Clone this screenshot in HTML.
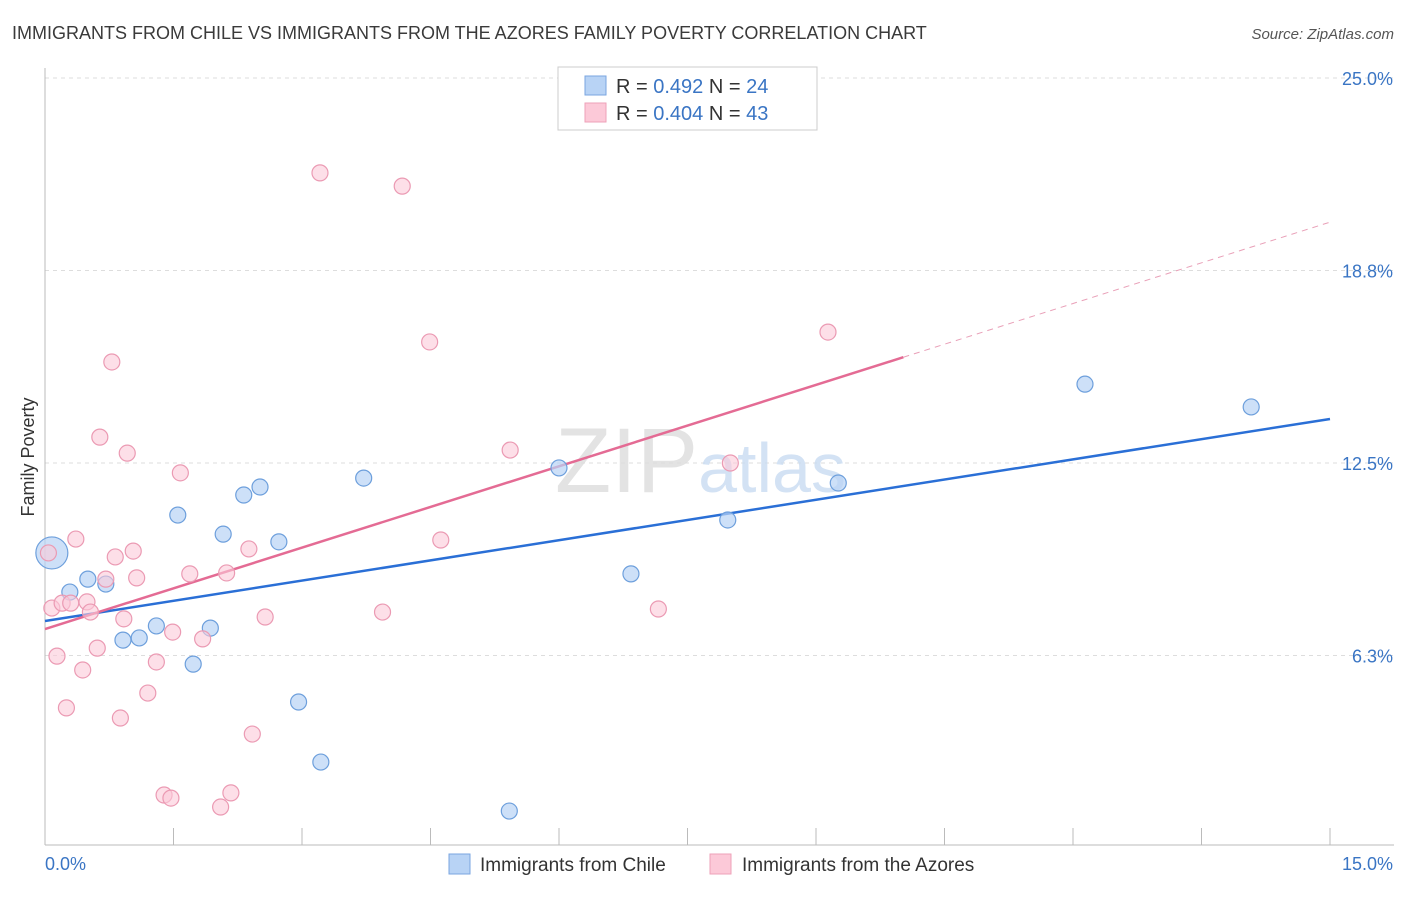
<!DOCTYPE html>
<html><head><meta charset="utf-8">
<style>
body{margin:0;background:#fff;font-family:"Liberation Sans",sans-serif;}
svg text{font-family:"Liberation Sans",sans-serif;}
</style></head>
<body>
<svg id="chart" width="1406" height="892" xmlns="http://www.w3.org/2000/svg">
<text x="12" y="39" font-size="18" fill="#3a3a3a">IMMIGRANTS FROM CHILE VS IMMIGRANTS FROM THE AZORES FAMILY POVERTY CORRELATION CHART</text>
<text x="1394" y="39" font-size="15" fill="#555" font-style="italic" text-anchor="end">Source: ZipAtlas.com</text>
<g id="grid"></g>
<text x="555" y="492" font-size="92" fill="#ddd" font-family="Liberation Serif" opacity="0.8">ZIP<tspan fill="#c9dcf2" font-family="Liberation Sans" font-size="70">atlas</tspan></text>
<text transform="translate(34,457) rotate(-90)" font-size="18" fill="#333" text-anchor="middle">Family Poverty</text>
<g id="lines"></g>
<g id="points"></g>
<g>
<rect x="558" y="67" width="259" height="63" fill="#fff" stroke="#ccc"/>
<rect x="585" y="76" width="21" height="19" fill="#b8d3f5" stroke="#7aa6e0"/>
<rect x="585" y="103" width="21" height="19" fill="#fcc9d8" stroke="#eea1b8"/>
<text x="616" y="93" font-size="20" fill="#333">R = <tspan fill="#3a75c4">0.492</tspan>   N = <tspan fill="#3a75c4">24</tspan></text>
<text x="616" y="120" font-size="20" fill="#333">R = <tspan fill="#3a75c4">0.404</tspan>   N = <tspan fill="#3a75c4">43</tspan></text>
</g>
<g>
<rect x="449" y="854" width="21" height="20" fill="#b8d3f5" stroke="#7aa6e0"/>
<text x="480" y="871" font-size="19" fill="#333">Immigrants from Chile</text>
<rect x="710" y="854" width="21" height="20" fill="#fcc9d8" stroke="#eea1b8"/>
<text x="742" y="871" font-size="19" fill="#333">Immigrants from the Azores</text>
</g>
<text x="45" y="870" font-size="18" fill="#3a75c4">0.0%</text>
<text x="1393" y="870" font-size="18" fill="#3a75c4" text-anchor="end">15.0%</text>
</svg>
<script>
const yTicks=[6.25,12.5,18.75,25];
const yTickLabels=["6.3%","12.5%","18.8%","25.0%"];
const chileX=[0.08,0.29,0.50,0.71,0.91,1.10,1.30,1.55,1.73,1.93,2.08,2.32,2.51,2.73,2.96,3.22,3.72,5.42,6.00,6.84,7.97,9.26,12.14,14.08];
const chileY=[9.58,8.31,8.73,8.57,6.75,6.82,7.21,10.81,5.97,7.14,10.19,11.46,11.72,9.94,4.74,2.79,12.01,1.20,12.34,8.90,10.65,11.85,15.06,14.32];
const azX=[0.04,0.08,0.14,0.20,0.25,0.30,0.36,0.44,0.49,0.53,0.61,0.64,0.71,0.78,0.82,0.88,0.92,0.96,1.03,1.07,1.20,1.30,1.39,1.47,1.49,1.58,1.69,1.84,2.05,2.12,2.17,2.38,2.42,2.57,3.21,3.94,4.17,4.49,4.62,5.43,7.16,8.00,9.14];
const azY=[9.58,7.79,6.23,7.95,4.55,7.95,10.03,5.78,7.99,7.66,6.49,13.34,8.73,15.78,9.45,4.22,7.44,12.82,9.64,8.77,5.03,6.04,1.72,1.62,7.01,12.18,8.90,6.79,1.33,8.93,1.79,9.71,3.70,7.50,21.92,7.66,21.49,16.43,10.00,12.92,7.76,12.50,16.75];
const chileTrend=[7.37,13.93];
const azTrend=[7.11,20.32];
const azSolidEnd=10.02;
const NS="http://www.w3.org/2000/svg";
const X=v=>45+v/15*1285;
const Y=v=>848-v*30.8;
function mk(tag,attrs,parent){const e=document.createElementNS(NS,tag);for(const k in attrs)e.setAttribute(k,attrs[k]);parent.appendChild(e);return e;}
const grid=document.getElementById('grid');
yTicks.forEach((t,i)=>{
 const l=mk('line',{x1:45,x2:1394,y1:Y(t),y2:Y(t),stroke:'#ddd','stroke-dasharray':'4,4'},grid);
 
 
 const tx=mk('text',{x:1393,y:Y(t)+7,'font-size':18,fill:'#3a75c4','text-anchor':'end'},grid);
 tx.textContent=yTickLabels[i];
 
 
});
const ax=mk('line',{x1:45,x2:45,y1:68,y2:845,stroke:'#bbb'},grid);


const bx=mk('line',{x1:45,x2:1394,y1:845,y2:845,stroke:'#bbb'},grid);


for(let i=0;i<=10;i++){const t=mk('line',{x1:X(i*1.5),x2:X(i*1.5),y1:828,y2:845,stroke:'#bbb'},grid);
 
 }
const lines=document.getElementById('lines');
const pts=document.getElementById('points');
chileX.forEach((x,i)=>{const c=mk('circle',{cx:X(x),cy:Y(chileY[i]),r:i==0?16:8,fill:'#b8d3f5','fill-opacity':0.7,stroke:'#6d9fdc','stroke-width':1.2},pts);
 
 });
azX.forEach((x,i)=>{const c=mk('circle',{cx:X(x),cy:Y(azY[i]),r:8,fill:'#fcc9d8','fill-opacity':0.6,stroke:'#eb9ab3','stroke-width':1.2},pts);
 
 });
const azAt=v=>azTrend[0]+(azTrend[1]-azTrend[0])*v/15;
const l1=mk('line',{x1:X(0),y1:Y(chileTrend[0]),x2:X(15),y2:Y(chileTrend[1]),stroke:'#2a6fd6','stroke-width':2.5},lines);


const l2=mk('line',{x1:X(0),y1:Y(azTrend[0]),x2:X(azSolidEnd),y2:Y(azAt(azSolidEnd)),stroke:'#e46b94','stroke-width':2.5},lines);


const l3=mk('line',{x1:X(azSolidEnd),y1:Y(azAt(azSolidEnd)),x2:X(15),y2:Y(azTrend[1]),stroke:'#e9a0b8','stroke-width':1,'stroke-dasharray':'6,5'},lines);


</script>
</body></html>
